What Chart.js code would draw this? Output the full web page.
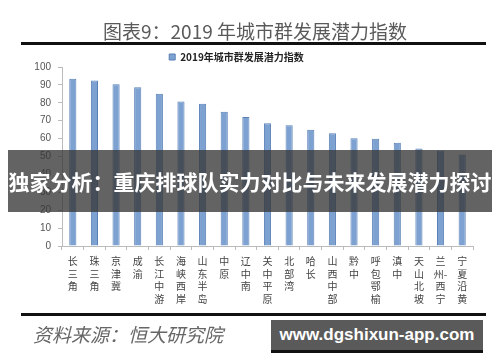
<!DOCTYPE html>
<html>
<head>
<meta charset="utf-8">
<script src="https://cdn.jsdelivr.net/npm/chart.js@4.4.0/dist/chart.umd.min.js"></script>
<style>
  body { margin: 0; background: #fff; }
  #wrap { position: relative; width: 500px; height: 362px; overflow: hidden; background: #fff; }
  #chart { position: absolute; left: 0; top: 0; }
  .title { position: absolute; left: 0; width: 510px; top: 17px; text-align: center; font: 19px "Noto Sans CJK SC", sans-serif; color: #5a5a5a; }
  .rule { position: absolute; left: 21px; width: 465px; height: 3px; background: #111; }
  .source { position: absolute; left: 33px; top: 320px; font: italic 19px "Noto Sans CJK SC", sans-serif; color: #666; }
  .banner { position: absolute; left: 8px; width: 484px; top: 150px; height: 62px; background: rgba(55,55,55,0.78);
            color: #fff; font: bold 21px "Noto Sans CJK SC", sans-serif; line-height: 62px; text-align: center; white-space: nowrap; }
  .mark { position: absolute; left: 271px; width: 212px; top: 320px; height: 30px; background: #5a5a5a; border-bottom: 3px solid #111;
          color: #fff; font: bold 17px "Liberation Sans", Arial, sans-serif; line-height: 30px; text-align: center; }
</style>
</head>
<body>
<div id="wrap">
  <canvas id="chart" width="500" height="362"></canvas>
  <div class="title">图表9：2019 年城市群发展潜力指数</div>
  <div class="rule" style="top:42px"></div>
  <div class="rule" style="top:313px"></div>
  <div class="source">资料来源：恒大研究院</div>
  <div class="banner">独家分析：重庆排球队实力对比与未来发展潜力探讨</div>
  <div class="mark">www.dgshixun-app.com</div>
</div>
<script>
// 城市群名称（竖排，每行一个字）
const cities = [
    ['长','三','角'], ['珠','三','角'], ['京','津','冀'], ['成','渝'],
    ['长','江','中','游'], ['海','峡','西','岸'], ['山','东','半','岛'], ['中','原'],
    ['辽','中','南'], ['关','中','平','原'], ['北','部','湾'], ['哈','长'],
    ['山','西','中','部'], ['黔','中'], ['呼','包','鄂','榆'], ['滇','中'],
    ['天','山','北','坡'], ['兰','州-','西','宁'], ['宁','夏','沿','黄']
];
// 2019年城市群发展潜力指数
const indexValues = [93.4, 92.5, 90.4, 88.7, 85.0, 80.7, 79.4, 75.0, 72.0, 68.6,
    67.5, 64.9, 63.0, 60.2, 59.9, 57.7, 54.5, 53.4, 51.1];
const seriesName = '2019年城市群发展潜力指数';

// 图例高度固定，让绘图区顶部对齐
const legendHeight = {
    id: 'legendHeight',
    beforeInit(chart) {
        const fit = chart.legend.fit;
        chart.legend.fit = function () {
            fit.call(this);
            this.height = 20;
        };
    }
};

new Chart(document.getElementById('chart'), {
    type: 'bar',
    data: {
        labels: cities,
        datasets: [{
            label: seriesName,
            data: indexValues,
            backgroundColor: '#7da2d2',
            borderColor: '#5a80b6',
            borderWidth: 1,
            barPercentage: 0.33,
            categoryPercentage: 1
        }]
    },
    options: {
        responsive: false,
        animation: false,
        layout: { padding: { top: 47, right: 27, left: 0, bottom: 0 } },
        plugins: {
            legend: {
                labels: {
                    boxWidth: 6, boxHeight: 6, padding: 5,
                    color: '#222',
                    font: { family: '"Noto Sans CJK SC"', size: 10, weight: 'bold' }
                }
            },
            tooltip: { enabled: false }
        },
        scales: {
            x: {
                afterFit: s => { s.height = 116; },
                grid: { drawOnChartArea: false, tickLength: 4, color: '#bbb' },
                border: { color: '#bbb' },
                ticks: {
                    padding: 5, maxRotation: 0, autoSkip: false, color: '#444',
                    font: { family: '"Noto Sans CJK SC"', size: 10, lineHeight: 1.25 }
                }
            },
            y: {
                min: 0, max: 100,
                afterFit: s => { s.width = 62; },
                grid: { drawOnChartArea: false, tickLength: 4, color: '#bbb' },
                border: { color: '#bbb' },
                ticks: {
                    stepSize: 10, padding: 7, color: '#555',
                    font: { family: '"Liberation Sans"', size: 10 }
                }
            }
        }
    },
    plugins: [legendHeight]
});
</script>
</body>
</html>
